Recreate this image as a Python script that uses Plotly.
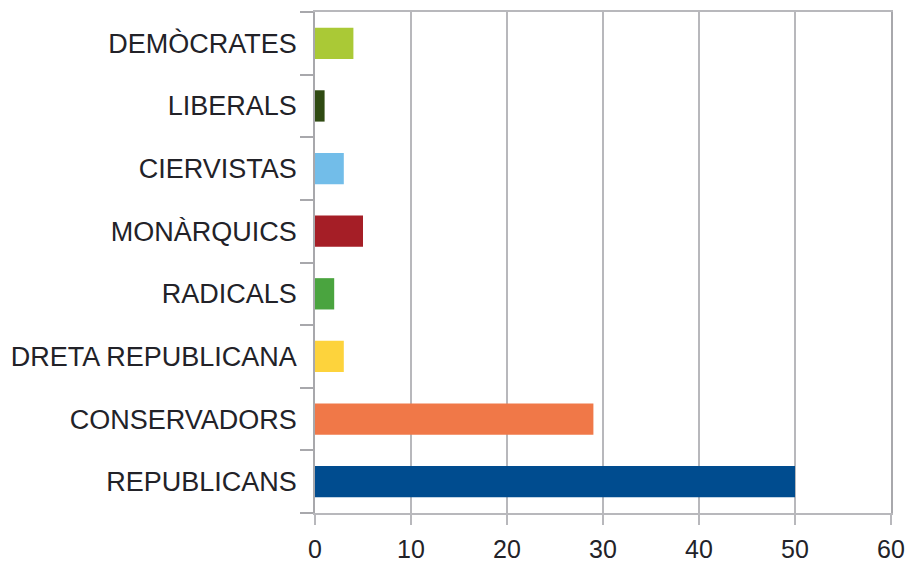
import plotly.graph_objects as go

categories = ["REPUBLICANS", "CONSERVADORS", "DRETA REPUBLICANA", "RADICALS",
              "MONÀRQUICS", "CIERVISTAS", "LIBERALS", "DEMÒCRATES"]
values = [50, 29, 3, 2, 5, 3, 1, 4]
colors = ["#004c8f", "#f07848", "#fdd33c", "#4aa43f",
          "#a51e26", "#72bde9", "#2f4a12", "#aac936"]
x_ticks = [0, 10, 20, 30, 40, 50, 60]

FONT = "Liberation Sans, Arial, sans-serif"

fig = go.Figure(go.Bar(
    y=categories, x=values, orientation="h",
    marker=dict(color=colors, line=dict(width=0)),
    width=0.5,
))

fig.update_layout(
    width=906, height=562,
    margin=dict(l=315, r=15, t=12, b=49, autoexpand=False),
    paper_bgcolor="white", plot_bgcolor="white",
    showlegend=False,
    font=dict(family=FONT, color="#222228"),
)
fig.update_xaxes(
    range=[0, 60], tickvals=x_ticks, showgrid=True, gridcolor="#b8b8bc", gridwidth=1.5,
    showline=True, linecolor="#b8b8bc", linewidth=1.5, mirror=True,
    ticks="outside", ticklen=10, tickcolor="#b8b8bc", tickwidth=1.5,
    tickfont=dict(size=25, color="#222228", family=FONT), zeroline=False,
    automargin=False, ticklabelstandoff=3,
)
fig.update_yaxes(
    categoryorder="array", categoryarray=categories,
    range=[-0.5, 7.5],
    showline=True, linecolor="#a8a8ac", linewidth=1.5, mirror=True,
    ticks="outside", tickson="boundaries", ticklen=13, tickcolor="#a8a8ac", tickwidth=1.5,
    tickfont=dict(size=27, color="#222228", family=FONT), showgrid=False,
    ticklabelstandoff=11, automargin=False,
)

fig.write_html(
    "out.html",
    config={"displayModeBar": False},
    post_script="document.body.style.margin='0';document.body.style.overflow='hidden';",
)
